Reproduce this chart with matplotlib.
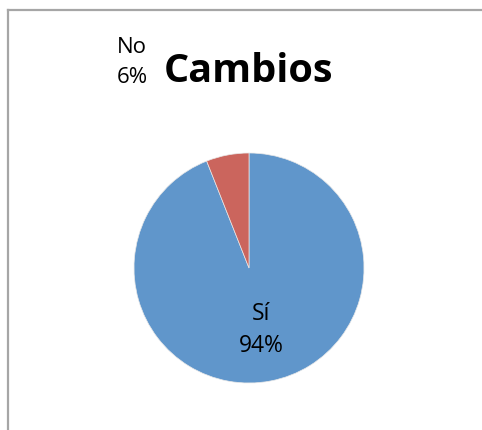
import matplotlib.pyplot as plt
from matplotlib.lines import Line2D

# respuestas
labels = ['Sí', 'No']
values = [94, 6]
colors = ['#6096CB', '#CB655D']

fig = plt.figure(figsize=(4.82, 4.30), dpi=100)
fig.patch.set_facecolor('white')

# marco del grafico (solo borde izquierdo y superior visibles)
W, H = 482, 430
fig.add_artist(Line2D([8 / W, 8 / W], [0, 1 - 10 / H], color='#A6A6A6', lw=1.6,
                      transform=fig.transFigure))
fig.add_artist(Line2D([8 / W, 1], [1 - 10 / H, 1 - 10 / H], color='#A6A6A6', lw=1.6,
                      transform=fig.transFigure))

ax = fig.add_axes([134 / W, 47 / H, 230 / W, 230 / H])
wedges, _ = ax.pie(values, colors=colors, startangle=90, counterclock=False,
                   wedgeprops=dict(edgecolor='#E8E8E8', linewidth=0.5))
ax.set_xlim(-1, 1)
ax.set_ylim(-1, 1)
ax.set_aspect('equal')
ax.axis('off')

total = sum(values)
pct = [round(v * 100 / total) for v in values]

fig.text(248.5 / W, 1 - 82 / H, 'Cambios', fontsize=28.5, fontweight='bold',
         family='Open Sans', ha='center', va='baseline')

# etiquetas de datos (baseline = ultima linea)
fig.text(261 / W, 1 - 352 / H, f'{labels[0]}\n{pct[0]}%', fontsize=16.5,
         family='Open Sans', ha='center', va='baseline', linespacing=1.45)
fig.text(132 / W, 1 - 83 / H, f'{labels[1]}\n{pct[1]}%', fontsize=16,
         family='Open Sans', ha='center', va='baseline', linespacing=1.55)

fig.savefig('out.png', dpi=100)
